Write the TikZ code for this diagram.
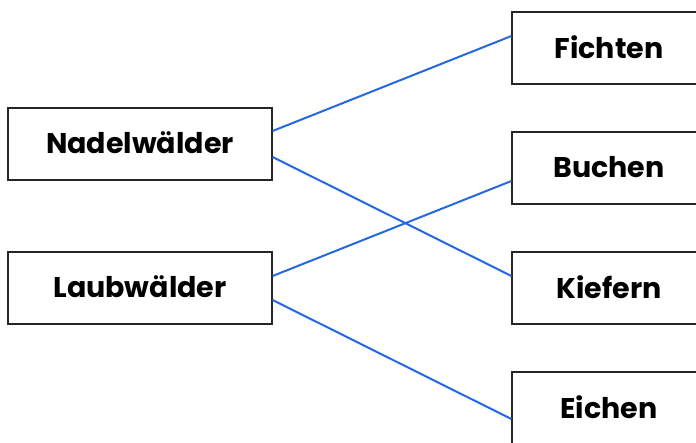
\documentclass[tikz,border=0pt]{standalone}
\usepackage{fontspec}
\setmainfont{Poppins}
\definecolor{linkblue}{RGB}{38,104,222}
\begin{document}
\begin{tikzpicture}[x=1pt,y=-1pt]
        \tikzstyle{every node}=[draw=black!85,line width=1.2pt,fill=white,minimum height=72pt,inner sep=0pt,font=\bfseries\fontsize{28.5}{32}\selectfont]
        \tikzstyle{leftbox}=[minimum width=264pt]
        \tikzstyle{rightbox}=[minimum width=194pt]
        \tikzstyle{link}=[linkblue,line width=2pt]
        \useasboundingbox (0,0) rectangle (696,442);
        \clip (0,0) rectangle (696,442);
        \node[leftbox] (nadel) at (140,144) {\raisebox{2pt}{Nadelwälder}};
        \node[leftbox] (laub) at (140,288) {\raisebox{2pt}{Laubwälder}};
        \node[rightbox] (fichten) at (609,48) {\raisebox{2pt}{Fichten}};
        \node[rightbox] (buchen) at (609,168) {\raisebox{2pt}{Buchen}};
        \node[rightbox] (kiefern) at (609,288) {\raisebox{2pt}{Kiefern}};
        \node[rightbox] (eichen) at (609,408) {\raisebox{2pt}{Eichen}};
        \draw[link] ([yshift=13pt]nadel.east) -- ([yshift=12pt]fichten.west);
        \draw[link] ([yshift=-13pt]nadel.east) -- ([yshift=12pt]kiefern.west);
        \draw[link] ([yshift=12pt]laub.east) -- ([yshift=-13pt]buchen.west);
        \draw[link] ([yshift=-12pt]laub.east) -- ([yshift=-11pt]eichen.west);
    \end{tikzpicture}
\end{document}
